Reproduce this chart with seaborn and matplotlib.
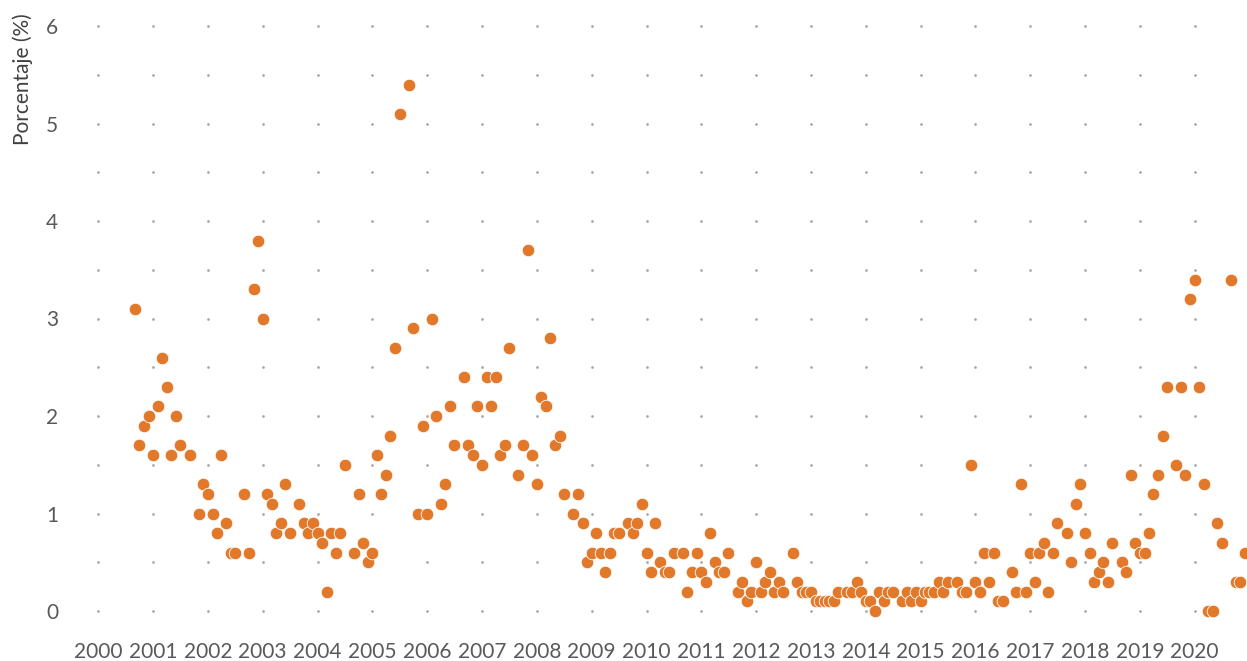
import matplotlib
matplotlib.use("Agg")
import matplotlib.pyplot as plt
import numpy as np
import pandas as pd
import seaborn as sns

# ---------------- data (monthly, percentage) ----------------
MONTHS = [1, 2, 3, 4, 5, 6, 7, 9, 10, 11, 12]   # no August survey

months_2000 = [9, 10, 11, 12]
v2000 = [3.1, 1.7, 1.9, 2.0]
months_2001 = [1, 2, 3, 4, 5, 6, 7, 9, 11, 12]
v2001 = [1.6, 2.1, 2.6, 2.3, 1.6, 2.0, 1.7, 1.6, 1.0, 1.3]
v2002 = [1.2, 1.0, 0.8, 1.6, 0.9, 0.6, 0.6, 1.2, 0.6, 3.3, 3.8]
v2003 = [3.0, 1.2, 1.1, 0.8, 0.9, 1.3, 0.8, 1.1, 0.9, 0.8, 0.9]
v2004 = [0.8, 0.7, 0.2, 0.8, 0.6, 0.8, 1.5, 0.6, 1.2, 0.7, 0.5]
v2005 = [0.6, 1.6, 1.2, 1.4, 1.8, 2.7, 5.1, 5.4, 2.9, 1.0, 1.9]
v2006 = [1.0, 3.0, 2.0, 1.1, 1.3, 2.1, 1.7, 2.4, 1.7, 1.6, 2.1]
v2007 = [1.5, 2.4, 2.1, 2.4, 1.6, 1.7, 2.7, 1.4, 1.7, 3.7, 1.6]
v2008 = [1.3, 2.2, 2.1, 2.8, 1.7, 1.8, 1.2, 1.0, 1.2, 0.9, 0.5]
v2009 = [0.6, 0.8, 0.6, 0.4, 0.6, 0.8, 0.8, 0.9, 0.8, 0.9, 1.1]
v2010 = [0.6, 0.4, 0.9, 0.5, 0.4, 0.4, 0.6, 0.6, 0.2, 0.4, 0.6]
v2011 = [0.4, 0.3, 0.8, 0.5, 0.4, 0.4, 0.6, 0.2, 0.3, 0.1, 0.2]
v2012 = [0.5, 0.2, 0.3, 0.4, 0.2, 0.3, 0.2, 0.6, 0.3, 0.2, 0.2]
v2013 = [0.2, 0.1, 0.1, 0.1, 0.1, 0.1, 0.2, 0.2, 0.2, 0.3, 0.2]
v2014 = [0.1, 0.1, 0.0, 0.2, 0.1, 0.2, 0.2, 0.1, 0.2, 0.1, 0.2]
v2015 = [0.1, 0.2, 0.2, 0.2, 0.3, 0.2, 0.3, 0.3, 0.2, 0.2, 1.5]
v2016 = [0.3, 0.2, 0.6, 0.3, 0.6, 0.1, 0.1, 0.4, 0.2, 1.3, 0.2]
v2017 = [0.6, 0.3, 0.6, 0.7, 0.2, 0.6, 0.9, 0.8, 0.5, 1.1, 1.3]
v2018 = [0.8, 0.6, 0.3, 0.4, 0.5, 0.3, 0.7, 0.5, 0.4, 1.4, 0.7]
v2019 = [0.6, 0.6, 0.8, 1.2, 1.4, 1.8, 2.3, 1.5, 2.3, 1.4, 3.2]
v2020 = [3.4, 2.3, 1.3, 0.0, 0.0, 0.9, 0.7, 3.4, 0.3, 0.3, 0.6]

year_ticks = list(range(2000, 2021))
y_ticks = [0, 1, 2, 3, 4, 5, 6]
y_label = "Porcentaje (%)"

# ---------------- build table ----------------
series = {2000: (months_2000, v2000), 2001: (months_2001, v2001)}
for yr, vals in zip(range(2002, 2021),
                    [v2002, v2003, v2004, v2005, v2006, v2007, v2008, v2009,
                     v2010, v2011, v2012, v2013, v2014, v2015, v2016, v2017,
                     v2018, v2019, v2020]):
    series[yr] = (MONTHS, vals)

rows = []
for yr, (ms, vs) in series.items():
    for m, v in zip(ms, vs):
        rows.append({"fecha": pd.Timestamp(year=yr, month=m, day=1), "valor": v})
df = pd.DataFrame(rows)

# ---------------- style ----------------
sns.set_theme(style="white")
plt.rcParams["font.family"] = ["Lato", "DejaVu Sans"]

W, H = 1247, 661
fig = plt.figure(figsize=(W / 100, H / 100), dpi=100)

# layout in pixels
px_2000 = 98.25          # pixel x of 2000-01-01
px_per_year = 54.82
ax_left_px = 68
y0_px, px_per_unit = 611, 97.5
ylo, yhi = -0.15, 6.1
bot_px = y0_px - ylo * px_per_unit
top_px = y0_px - yhi * px_per_unit
ax = fig.add_axes([ax_left_px / W, (H - bot_px) / H,
                   (W - ax_left_px) / W, (bot_px - top_px) / H])

T0 = pd.Timestamp("2000-01-01")
px_per_day = px_per_year / 365.25
xlo = T0 - pd.Timedelta(days=(px_2000 - ax_left_px) / px_per_day)
xhi = T0 + pd.Timedelta(days=(W - px_2000) / px_per_day)

# dotted grid at tick intersections
tick_dates = pd.to_datetime([f"{y}-01-01" for y in year_ticks])
grid_y = np.arange(0, 6.01, 0.5)
gx = np.repeat(tick_dates.values, len(grid_y))
gy = np.tile(grid_y, len(tick_dates))
ax.scatter(gx, gy, s=4, color="#a9a9a9", linewidths=0, zorder=1)

sns.scatterplot(data=df, x="fecha", y="valor", ax=ax, color="#E1782A",
                s=82, edgecolor="white", linewidth=0.6, zorder=3, legend=False)

ax.set_xlim(xlo, xhi)
ax.set_ylim(ylo, yhi)
ax.set_xticks(tick_dates)
ax.set_xticklabels([str(y) for y in year_ticks])
ax.set_yticks(y_ticks)
ax.set_yticklabels([str(v) for v in y_ticks])
ax.tick_params(axis="both", length=0, labelsize=15, colors="#595959")
ax.tick_params(axis="x", pad=12)
ax.tick_params(axis="y", pad=7)
for s in ax.spines.values():
    s.set_visible(False)
ax.grid(False)
ax.set_xlabel("")
ax.set_ylabel(y_label, loc="top", fontsize=15, color="#404040")
ax.yaxis.set_label_coords((33.5 - ax_left_px) / (W - ax_left_px),
                          (bot_px - 13) / (bot_px - top_px))

fig.savefig("out.png", dpi=100)
